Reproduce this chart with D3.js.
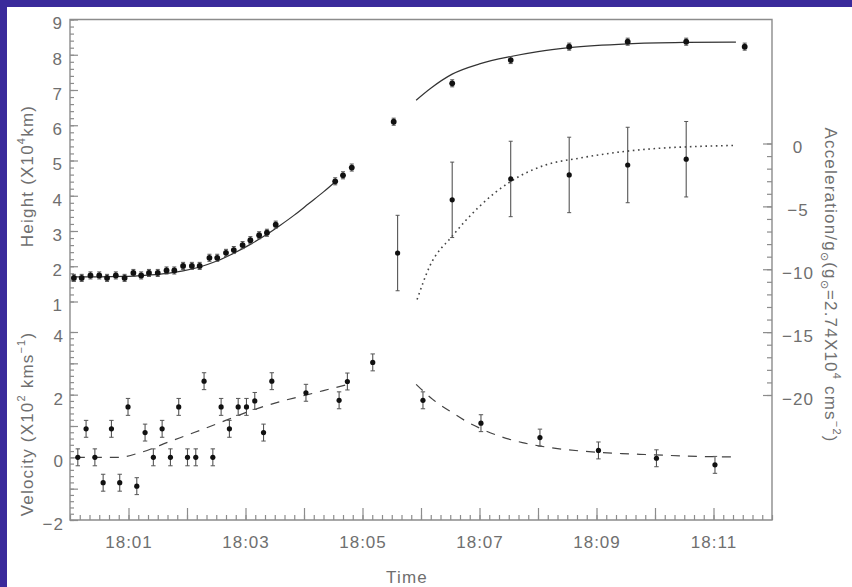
<!DOCTYPE html>
<html><head><meta charset="utf-8">
<script src="https://cdn.jsdelivr.net/npm/d3@7"></script>
<style>
body{margin:0;background:#fff}
svg{display:block}
</style>
</head><body>
<svg id="c" width="852" height="587"></svg>
<script>
// ---- data (time in seconds after 18:00) ----
const heightTime = [4, 12, 21, 30, 38, 47, 56, 65, 73, 81, 90, 99, 107, 116, 125, 133, 143, 151, 160, 168, 177, 185, 194, 202, 211, 272, 280, 289, 332, 392, 452, 512, 572, 632, 692];
const heightValue = [1.67, 1.67, 1.74, 1.74, 1.67, 1.74, 1.67, 1.81, 1.74, 1.81, 1.81, 1.88, 1.88, 2.01, 2.01, 2.01, 2.24, 2.24, 2.38, 2.46, 2.60, 2.74, 2.88, 2.95, 3.18, 4.41, 4.58, 4.80, 6.10, 7.19, 7.85, 8.23, 8.37, 8.37, 8.23];
const heightError = 0.1;

const velocityTime = [8, 16.5, 25.5, 34, 42.5, 51, 59.5, 68.5, 77, 85.5, 94.5, 103, 111.5, 120.5, 129, 137.5, 146.5, 155, 163.5, 172.5, 181, 189.5, 198.5, 207, 242, 276, 284.5, 310.5, 362, 421.5, 482, 542, 601.5, 661.5];
const velocityValue = [0, 0.91, 0, -0.81, 0.91, -0.81, 1.61, -0.92, 0.79, 0, 0.91, 0, 1.61, 0, 0, 2.43, 0, 1.61, 0.91, 1.61, 1.61, 1.80, 0.79, 2.43, 2.06, 1.82, 2.42, 3.03, 1.82, 1.09, 0.63, 0.22, -0.03, -0.24];
const velocityError = 0.27;

const accelTime = [336, 392, 452, 512, 572, 632];
const accelValue = [-8.71, -4.48, -2.82, -2.50, -1.71, -1.25];
const accelError = 3.0;

// fitted curves
const heightFit1Time = [4, 30, 55, 80, 100, 116, 133, 150, 168, 185, 200, 215, 230, 245, 260, 273];
const heightFit1Value = [1.70, 1.70, 1.71, 1.75, 1.80, 1.87, 1.98, 2.14, 2.37, 2.62, 2.87, 3.15, 3.45, 3.78, 4.11, 4.42];
const heightFit2Time = [355, 370, 392, 420, 452, 480, 512, 572, 632, 683];
const heightFit2Value = [6.71, 7.05, 7.45, 7.74, 7.95, 8.09, 8.20, 8.31, 8.35, 8.36];
const velocityFit1Time = [6, 50, 72, 102, 128, 159, 184, 218, 236, 260, 284];
const velocityFit1Value = [0, 0, 0.15, 0.50, 0.80, 1.17, 1.47, 1.80, 1.94, 2.13, 2.32];
const velocityFit2Time = [355, 372, 392, 408, 421, 443, 464, 482, 505, 525, 566, 590, 615, 645, 683];
const velocityFit2Value = [2.33, 1.85, 1.43, 1.12, 0.92, 0.65, 0.47, 0.36, 0.26, 0.20, 0.12, 0.09, 0.06, 0.03, 0.01];
const accelFitTime = [356, 369, 392, 420, 452, 488, 522, 570, 604, 638, 683];
const accelFitValue = [-12.4, -9.75, -7.37, -5.0, -3.02, -1.70, -1.17, -0.62, -0.38, -0.25, -0.15];

// axis ticks and labels
const timeMajorTicks = [60, 120, 180, 240, 300, 360, 420, 480, 540, 600, 660];
const timeLabels = ["18:01", "", "18:03", "", "18:05", "", "18:07", "", "18:09", "", "18:11"];
const heightTicks = [1, 2, 3, 4, 5, 6, 7, 8, 9];
const velocityTicks = [-2, -1, 0, 1, 2, 3, 4];
const velocityLabelTicks = [-2, 0, 2, 4];
const accelTicks = [0, -5, -10, -15, -20];

// ---- drawing ----
const svg = d3.select("#c");
const FONT = "'Liberation Sans', Arial, sans-serif";
const TXT = "#6f6f6f";
const AX = "#8c8c8c";
const minus = d => (d < 0 ? "\u2212" + Math.abs(d) : String(d));

svg.append("rect").attr("x", 0).attr("y", 0).attr("width", 852).attr("height", 587).attr("fill", "#fff");
svg.append("rect").attr("x", 0).attr("y", 0).attr("width", 852).attr("height", 7).attr("fill", "#3a2a9b");
svg.append("rect").attr("x", 0).attr("y", 0).attr("width", 7).attr("height", 587).attr("fill", "#3a2a9b");

const L = 70, R = 772, T = 19.5, B = 520;
const x = d3.scaleLinear().domain([0, 720]).range([L, R]);
const yH = d3.scaleLinear().domain([1, 9]).range([301.5, T]);
const yV = d3.scaleLinear().domain([-2, 4]).range([B, 332]);
const yA = d3.scaleLinear().domain([-20, 0]).range([395, 143.5]);

function styleAxis(g) {
  g.attr("font-family", FONT).attr("font-size", 17).attr("color", AX);
  g.select(".domain").remove();
  g.selectAll("line").attr("stroke-width", 1.2);
  g.selectAll("text").attr("fill", TXT).attr("letter-spacing", 1);
}

// frame
svg.append("path")
  .attr("d", `M${L},${T}H${R}V${B}H${L}Z`)
  .attr("fill", "none").attr("stroke", AX).attr("stroke-width", 1.4);

// x axis minor + major
svg.append("g").attr("transform", `translate(0,${B})`)
  .call(d3.axisBottom(x).tickValues(d3.range(0, 721, 10)).tickSize(-5).tickFormat(""))
  .call(styleAxis);
svg.append("g").attr("transform", `translate(0,${B})`)
  .call(d3.axisBottom(x).tickValues(timeMajorTicks).tickSize(-12).tickPadding(16)
    .tickFormat((d, i) => timeLabels[i]))
  .call(styleAxis);

// height axis
svg.append("g").attr("transform", `translate(${L},0)`)
  .call(d3.axisLeft(yH).tickValues(d3.range(1, 9.001, 0.2)).tickSize(-4).tickFormat(""))
  .call(styleAxis);
svg.append("g").attr("transform", `translate(${L},0)`)
  .call(d3.axisLeft(yH).tickValues(heightTicks).tickSize(-8).tickPadding(7).tickFormat(d => d))
  .call(styleAxis)
  .call(g => g.selectAll("text").attr("dy", "0.55em"));

// velocity axis
svg.append("g").attr("transform", `translate(${L},0)`)
  .call(d3.axisLeft(yV).tickValues(d3.range(-2, 4.001, 0.2)).tickSize(-4).tickFormat(""))
  .call(styleAxis);
svg.append("g").attr("transform", `translate(${L},0)`)
  .call(d3.axisLeft(yV).tickValues(velocityTicks).tickSize(-8).tickPadding(6)
    .tickFormat(d => (velocityLabelTicks.includes(d) ? minus(d) : "")))
  .call(styleAxis)
  .call(g => g.selectAll("text").attr("dy", "0.55em"));

// acceleration axis (right)
svg.append("g").attr("transform", `translate(${R},0)`)
  .call(d3.axisRight(yA).tickValues(d3.range(-20, 0.001, 1)).tickSize(-5).tickFormat(""))
  .call(styleAxis);
svg.append("g").attr("transform", `translate(${R},0)`)
  .call(d3.axisRight(yA).tickValues(accelTicks).tickSize(-9).tickPadding(26).tickFormat(minus))
  .call(styleAxis)
  .call(g => g.selectAll("text").attr("text-anchor", "middle").attr("dy", "0.55em"));

// curves
const lineGen = (ys) => d3.line().x(d => x(d[0])).y(d => ys(d[1])).curve(d3.curveMonotoneX);
const zip = (a, b) => a.map((t, i) => [t, b[i]]);
const plotG = svg.append("g");
plotG.append("path").datum(zip(heightFit1Time, heightFit1Value)).attr("d", lineGen(yH))
  .attr("fill", "none").attr("stroke", "#333").attr("stroke-width", 1.2);
plotG.append("path").datum(zip(heightFit2Time, heightFit2Value)).attr("d", lineGen(yH))
  .attr("fill", "none").attr("stroke", "#333").attr("stroke-width", 1.2);
plotG.append("path").datum(zip(velocityFit1Time, velocityFit1Value)).attr("d", lineGen(yV))
  .attr("fill", "none").attr("stroke", "#444").attr("stroke-width", 1.2).attr("stroke-dasharray", "9,8");
plotG.append("path").datum(zip(velocityFit2Time, velocityFit2Value)).attr("d", lineGen(yV))
  .attr("fill", "none").attr("stroke", "#444").attr("stroke-width", 1.2).attr("stroke-dasharray", "9,8");
plotG.append("path").datum(zip(accelFitTime, accelFitValue)).attr("d", lineGen(yA))
  .attr("fill", "none").attr("stroke", "#444").attr("stroke-width", 1.6).attr("stroke-dasharray", "1.6,3.6");

// error bars + points
function drawSeries(times, values, err, ys, r, cap, color) {
  const g = svg.append("g");
  const data = zip(times, values);
  g.selectAll("line.eb").data(data).join("line").attr("class", "eb")
    .attr("x1", d => x(d[0])).attr("x2", d => x(d[0]))
    .attr("y1", d => ys(d[1] - err)).attr("y2", d => ys(d[1] + err))
    .attr("stroke", color).attr("stroke-width", 1.1);
  g.selectAll("line.cap1").data(data).join("line").attr("class", "cap1")
    .attr("x1", d => x(d[0]) - cap).attr("x2", d => x(d[0]) + cap)
    .attr("y1", d => ys(d[1] - err)).attr("y2", d => ys(d[1] - err))
    .attr("stroke", color).attr("stroke-width", 1);
  g.selectAll("line.cap2").data(data).join("line").attr("class", "cap2")
    .attr("x1", d => x(d[0]) - cap).attr("x2", d => x(d[0]) + cap)
    .attr("y1", d => ys(d[1] + err)).attr("y2", d => ys(d[1] + err))
    .attr("stroke", color).attr("stroke-width", 1);
  g.selectAll("circle").data(data).join("circle")
    .attr("cx", d => x(d[0])).attr("cy", d => ys(d[1])).attr("r", r).attr("fill", "#111");
}
drawSeries(heightTime, heightValue, heightError, yH, 2.9, 2, "#555");
drawSeries(velocityTime, velocityValue, velocityError, yV, 2.6, 2.2, "#555");
drawSeries(accelTime, accelValue, accelError, yA, 2.6, 2, "#555");

// titles
const title = (tx, ty, rot, parts) => {
  const t = svg.append("text")
    .attr("transform", `translate(${tx},${ty}) rotate(${rot})`)
    .attr("text-anchor", "middle").attr("dominant-baseline", "central")
    .attr("font-family", FONT).attr("font-size", 17).attr("letter-spacing", 1.2).attr("fill", TXT);
  parts.forEach(p => {
    const s = t.append("tspan").text(p[0]);
    if (p[1] === "sup") s.attr("baseline-shift", "super").attr("font-size", 11);
    if (p[1] === "sub") s.attr("baseline-shift", "sub").attr("font-size", 11);
  });
  return t;
};
title(27, 176, -90, [["Height (X10"], ["4", "sup"], ["km)"]]);
title(27, 424, -90, [["Velocity (X10"], ["2", "sup"], [" kms"], ["\u22121", "sup"], [")"]]);
title(831, 285, 90, [["Acceleration/g"], ["\u2299", "sub"], ["(g"], ["\u2299", "sub"], ["=2.74X10"], ["4", "sup"], [" cms"], ["\u22122", "sup"], [")"]]);
svg.append("text").attr("x", 407).attr("y", 577).attr("text-anchor", "middle").attr("dominant-baseline", "central")
  .attr("font-family", FONT).attr("font-size", 17).attr("letter-spacing", 1.2).attr("fill", TXT).text("Time");
</script>
</body></html>
